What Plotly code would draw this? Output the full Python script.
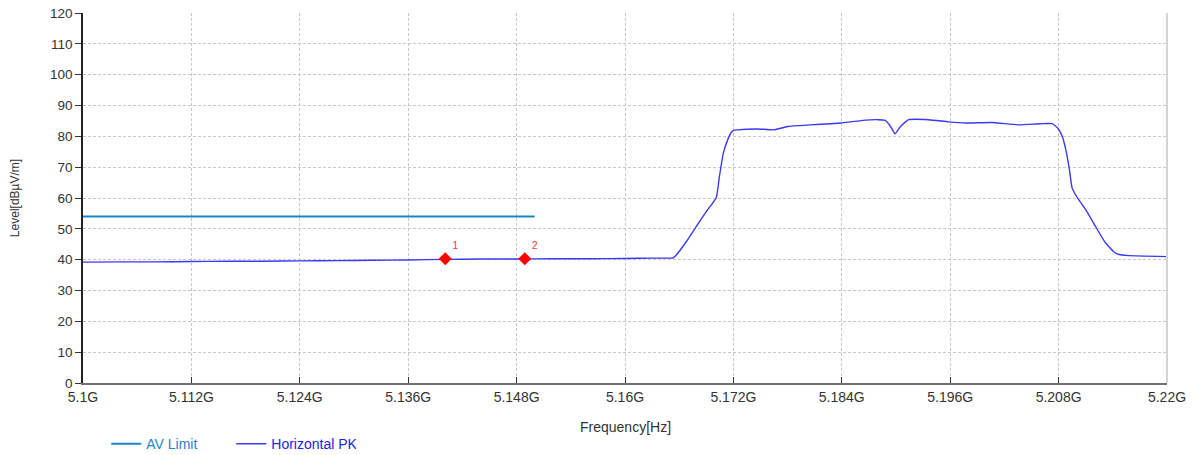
import plotly.graph_objects as go

# Frequencies in GHz
pk_freq = [5.100, 5.104, 5.108, 5.112, 5.116, 5.120, 5.124, 5.128, 5.132, 5.136,
           5.140, 5.144, 5.148, 5.152, 5.156, 5.160, 5.163, 5.1650, 5.16535, 5.1657,
           5.1668, 5.1679, 5.1690, 5.1701, 5.17045, 5.1709, 5.17145, 5.1717, 5.1720, 5.1724,
           5.1746, 5.1765, 5.1780, 5.1805, 5.1828, 5.1839, 5.1861, 5.1880, 5.1888,
           5.1894, 5.1899, 5.1905, 5.1914, 5.1936, 5.1958, 5.1977, 5.2006, 5.2036,
           5.2060, 5.2073, 5.2079, 5.2084, 5.2088, 5.2092, 5.2095, 5.2101, 5.2110,
           5.2121, 5.2132, 5.2143, 5.2150, 5.2158, 5.2199]
pk_level = [39.2, 39.3, 39.3, 39.4, 39.5, 39.5, 39.6, 39.7, 39.8, 39.9,
            40.1, 40.2, 40.2, 40.3, 40.3, 40.4, 40.5, 40.5, 40.6, 41.6,
            45.9, 50.8, 55.6, 60.1, 67.0, 74.7, 79.5, 81.0, 81.9, 82.1,
            82.4, 82.1, 83.2, 83.7, 84.1, 84.3, 85.1, 85.4, 85.2,
            83.2, 80.8, 83.2, 85.4, 85.4, 84.7, 84.3, 84.5, 83.7,
            84.1, 84.1, 82.7, 80.0, 75.6, 69.2, 63.2, 60.0, 56.2,
            50.7, 45.4, 42.1, 41.5, 41.3, 41.0]

limit_freq = [5.100, 5.150]
limit_level = [54, 54]

marker_freq = [5.1401, 5.1489]
marker_level = [40.3, 40.3]
marker_labels = ["1", "2"]

tick_vals = [5.100, 5.112, 5.124, 5.136, 5.148, 5.160, 5.172, 5.184, 5.196, 5.208, 5.220]
tick_text = ["5.1G", "5.112G", "5.124G", "5.136G", "5.148G", "5.16G",
             "5.172G", "5.184G", "5.196G", "5.208G", "5.22G"]

LIMIT_COLOR = "#1a86c8"
PK_COLOR = "#3a3af5"
FONT = "Liberation Sans, Arial, sans-serif"

fig = go.Figure()
fig.add_trace(go.Scatter(
    x=limit_freq, y=limit_level, mode="lines",
    line=dict(color=LIMIT_COLOR, width=2),
    name=f'<span style="color:{LIMIT_COLOR}">AV Limit</span>'))
fig.add_trace(go.Scatter(
    x=pk_freq, y=pk_level, mode="lines",
    line=dict(color=PK_COLOR, width=1.4, shape="spline", smoothing=0.4),
    name='<span style="color:#2222ee">Horizontal PK</span>'))
fig.add_trace(go.Scatter(
    x=marker_freq, y=marker_level, mode="markers+text",
    marker=dict(symbol="diamond", color="#ff0000", size=10),
    text=marker_labels, textposition="top right",
    textfont=dict(color="#ff3030", size=10, family=FONT),
    showlegend=False))

grid = dict(showgrid=True, gridcolor="#c8c8c8", griddash="3px,2px", gridwidth=1)

fig.update_layout(
    width=1194, height=455,
    margin=dict(l=83, r=27, t=13, b=72),
    paper_bgcolor="white", plot_bgcolor="white",
    font=dict(family=FONT, size=14, color="#333333"),
    xaxis=dict(range=[5.1, 5.22], tickvals=tick_vals, ticktext=tick_text,
               ticks="inside", ticklen=6, tickcolor="#333333", automargin=False,
               showline=True, linecolor="#707070", linewidth=2,
               zeroline=False, tickfont=dict(size=14), **grid),
    yaxis=dict(range=[0, 120], dtick=10, ticks="outside", ticklen=6, automargin=False,
               tickcolor="#333333", showline=True, linecolor="#222222", linewidth=1.5,
               zeroline=False, title=dict(text="Level[dBµV/m]", standoff=28,
                                          font=dict(size=12)),
               tickfont=dict(size=13.5), **grid),
    legend=dict(orientation="h", x=0.089, xref="container", xanchor="left",
                y=0.024, yref="container", yanchor="middle",
                font=dict(size=14), entrywidth=80, bgcolor="rgba(0,0,0,0)"),
    annotations=[dict(text="Frequency[Hz]", xref="paper", yref="paper",
                      x=0.5, y=-0.119, xanchor="center", yanchor="middle",
                      showarrow=False, font=dict(size=14, color="#333333"))],
    shapes=[dict(type="line", xref="paper", yref="paper", x0=1, x1=1, y0=0, y1=1,
                 line=dict(color="#d4d4d4", width=2))],
)

fig.write_html("out.html", config={"displayModeBar": False},
               post_script="document.body.style.margin='0';")
